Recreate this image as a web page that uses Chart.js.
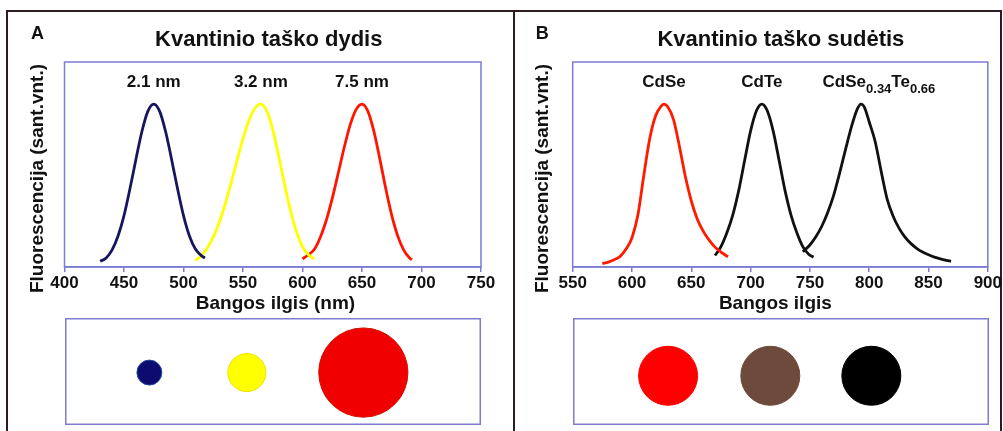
<!DOCTYPE html>
<html>
<head>
<meta charset="utf-8">
<script src="https://cdn.jsdelivr.net/npm/chart.js@4.4.1/dist/chart.umd.min.js"></script>
<style>
  body { margin: 0; background: #fff; width: 1003px; height: 431px; overflow: hidden; position: relative; }
  #frame { position: absolute; left: 6px; top: 10px; width: 996px; height: 440px; border: 2px solid #2b1d1d; box-sizing: border-box; }
  #divider { position: absolute; left: 513px; top: 10px; width: 2px; height: 430px; background: #2b1d1d; }
  canvas { position: absolute; }
</style>
</head>
<body>
<div id="frame"></div>
<div id="divider"></div>
<canvas id="specA" width="505" height="318" style="left:0;top:0"></canvas>
<canvas id="specB" width="489" height="318" style="left:514px;top:0"></canvas>
<canvas id="dotsA" width="416" height="107" style="left:65px;top:318px"></canvas>
<canvas id="dotsB" width="416" height="107" style="left:573px;top:318px"></canvas>
<script>
// ašių padalos
const ticksA = [400, 450, 500, 550, 600, 650, 700, 750];
const ticksB = [550, 600, 650, 700, 750, 800, 850, 900];

// A: taško dydis
const sizeLabels = ['2.1 nm', '3.2 nm', '7.5 nm'];
const dotSizeNm = [2.1, 3.2, 7.5];
const wl21 = [430, 435, 440, 445, 450, 455, 460, 465, 470, 475, 480, 485, 490, 495, 500, 505, 510, 515, 518];
const fl21 = [0.035, 0.055, 0.105, 0.19, 0.315, 0.48, 0.66, 0.83, 0.955, 1.0, 0.955, 0.83, 0.66, 0.48, 0.315, 0.19, 0.11, 0.07, 0.055];
const wl32 = [510, 515, 520, 525, 530, 535, 540, 545, 550, 555, 560, 565, 570, 575, 580, 585, 590, 595, 600, 605, 610];
const fl32 = [0.04, 0.07, 0.117, 0.183, 0.272, 0.385, 0.515, 0.654, 0.788, 0.899, 0.974, 1.0, 0.958, 0.843, 0.681, 0.505, 0.344, 0.215, 0.125, 0.075, 0.05];
const wl75 = [600, 605, 610, 615, 620, 625, 630, 635, 640, 645, 650, 655, 660, 665, 670, 675, 680, 685, 690, 692];
const fl75 = [0.05, 0.075, 0.109, 0.183, 0.287, 0.421, 0.575, 0.732, 0.871, 0.966, 1.0, 0.955, 0.832, 0.662, 0.48, 0.317, 0.191, 0.105, 0.055, 0.045];
const dotPosA = [471, 553, 651];

// B: taško sudėtis
const compLabels = ['CdSe', 'CdTe', 'CdSe_{0.34}Te_{0.66}'];
const wlCdSe = [575, 580, 585, 590, 595, 600, 605, 610, 615, 620, 625, 627, 630, 635, 640, 645, 650, 655, 660, 665, 670, 675, 681];
const flCdSe = [0.02, 0.03, 0.045, 0.065, 0.11, 0.18, 0.32, 0.565, 0.79, 0.93, 0.99, 1.0, 0.985, 0.905, 0.74, 0.555, 0.405, 0.295, 0.22, 0.165, 0.122, 0.092, 0.063];
const wlCdTe = [670, 675, 680, 685, 690, 695, 700, 705, 709.5, 714, 719, 724, 729, 734, 739, 744, 749, 753];
const flCdTe = [0.07, 0.125, 0.21, 0.32, 0.47, 0.655, 0.835, 0.96, 1.0, 0.96, 0.835, 0.655, 0.47, 0.32, 0.21, 0.125, 0.078, 0.06];
const wlCdSeTe = [744, 750, 755, 760, 765, 770, 775, 780, 785, 790, 793, 796, 800, 805, 810, 815, 820, 825, 830, 835, 840, 845, 850, 855, 860, 865, 869];
const flCdSeTe = [0.094, 0.135, 0.185, 0.25, 0.335, 0.44, 0.575, 0.72, 0.86, 0.97, 1.0, 0.98, 0.89, 0.77, 0.59, 0.42, 0.315, 0.24, 0.185, 0.145, 0.115, 0.092, 0.075, 0.061, 0.05, 0.041, 0.035];
const dotPosB = [630, 716, 801];

// spalvos
const fam = '"Liberation Sans", Arial, sans-serif';
const frameColor = '#7d7bd2';
const textColor = '#111';
const lineColorsA = ['#16165e', '#ffff00', '#ff1500'];
const lineColorsB = ['#ff1a00', '#111111', '#111111'];
const dotColorsA = ['#0c0c70', '#ffff00', '#f00000'];
const dotEdgeA = ['#2a4a9a', '#f0e000', '#d01000'];
const dotColorsB = ['#ff0000', '#6d4a3b', '#000000'];

Chart.defaults.font.family = fam;

function pts(xs, ys) {
    return xs.map((x, i) => ({ x: x, y: ys[i] }));
}

function peakOf(xs, ys) {
    let k = 0;
    ys.forEach((v, i) => { if (v > ys[k]) k = i; });
    return xs[k];
}

// rėmelis aplink grafiko sritį
function framePlugin(inset) {
    return {
        id: 'plotFrame',
        beforeDatasetsDraw(chart) {
            const { ctx, chartArea: a } = chart;
            ctx.save();
            ctx.strokeStyle = frameColor;
            ctx.lineWidth = 1.5;
            ctx.strokeRect(a.left + inset, a.top + inset, a.right - a.left - 2 * inset, a.bottom - a.top - 2 * inset);
            ctx.restore();
        }
    };
}

// tekstas su apatiniais indeksais: "CdSe_{0.34}"
function drawRich(ctx, text, x, y, size) {
    const parts = [];
    text.split(/(_\{[^}]*\})/).forEach(p => {
        if (!p) return;
        if (p.startsWith('_{')) parts.push({ t: p.slice(2, -1), sub: true });
        else parts.push({ t: p, sub: false });
    });
    const subSize = Math.round(size * 0.78);
    let w = 0;
    parts.forEach(p => {
        ctx.font = 'bold ' + (p.sub ? subSize : size) + 'px ' + fam;
        p.w = ctx.measureText(p.t).width;
        w += p.w;
    });
    let cx = x - w / 2;
    ctx.textAlign = 'left';
    parts.forEach(p => {
        ctx.font = 'bold ' + (p.sub ? subSize : size) + 'px ' + fam;
        ctx.fillText(p.t, cx, p.sub ? y + 6 : y);
        cx += p.w;
    });
}

function textPlugin(cfg) {
    return {
        id: 'panelText',
        afterDraw(chart) {
            const { ctx, chartArea: a } = chart;
            const xs = chart.scales.x, ys = chart.scales.y;
            const mid = (a.left + a.right) / 2;
            ctx.save();
            ctx.fillStyle = textColor;
            ctx.textBaseline = 'alphabetic';

            ctx.font = 'bold 18px ' + fam;
            ctx.textAlign = 'left';
            ctx.fillText(cfg.letter, a.left + cfg.letterDx, 39);

            ctx.font = 'bold 22px ' + fam;
            ctx.textAlign = 'center';
            ctx.fillText(cfg.title, mid + cfg.titleDx, 46);

            ctx.font = 'bold 19px ' + fam;
            ctx.fillText(cfg.xTitle, mid + cfg.xTitleDx, 308.5);

            ctx.save();
            ctx.translate(a.left + cfg.yTitleDx, 178.5);
            ctx.rotate(-Math.PI / 2);
            ctx.fillText(cfg.yTitle, 0, 0);
            ctx.restore();

            cfg.labels.forEach((lab, i) => {
                const px = xs.getPixelForValue(cfg.peaks[i]) + (cfg.labelDx[i] || 0);
                const py = ys.getPixelForValue(cfg.labelLevel) + 6;
                drawRich(ctx, lab, px, py, 17);
            });
            ctx.restore();
        }
    };
}

function spectrumChart(id, series, colors, ticks, padding, cfg) {
    return new Chart(document.getElementById(id), {
        type: 'line',
        data: {
            datasets: series.map((s, i) => ({
                data: pts(s[0], s[1]),
                borderColor: colors[i],
                borderWidth: 2.8,
                pointRadius: 0,
                fill: false,
                cubicInterpolationMode: 'monotone'
            }))
        },
        options: {
            responsive: false,
            animation: false,
            events: [],
            layout: { padding: padding },
            plugins: { legend: { display: false }, tooltip: { enabled: false } },
            scales: {
                x: {
                    type: 'linear',
                    min: ticks[0],
                    max: ticks[ticks.length - 1],
                    afterBuildTicks: s => { s.ticks = ticks.map(v => ({ value: v })); },
                    afterFit: s => { s.height = 48; },
                    border: { color: frameColor, width: 1.5 },
                    grid: { drawOnChartArea: false, color: frameColor, tickLength: 5, lineWidth: 1.5 },
                    ticks: { color: textColor, font: { size: 17, weight: 'bold' }, padding: 1, maxRotation: 0, autoSkip: false }
                },
                y: { display: false, min: 0, max: 1.258 }
            }
        },
        plugins: [framePlugin(0), textPlugin(cfg)]
    });
}

function dotChart(id, xs, level, radii, colors, edges, ticks) {
    return new Chart(document.getElementById(id), {
        type: 'bubble',
        data: {
            datasets: [{
                data: xs.map((x, i) => ({ x: x, y: level, r: radii[i] })),
                backgroundColor: colors,
                borderColor: edges,
                borderWidth: 1,
                clip: false
            }]
        },
        options: {
            responsive: false,
            animation: false,
            events: [],
            layout: { padding: 0, autoPadding: false },
            plugins: { legend: { display: false }, tooltip: { enabled: false } },
            scales: {
                x: { display: false, min: ticks[0], max: ticks[ticks.length - 1] },
                y: { display: false, min: 0, max: 1 }
            }
        },
        plugins: [framePlugin(0.75)]
    });
}

// A
const seriesA = [[wl21, fl21], [wl32, fl32], [wl75, fl75]];
spectrumChart('specA', seriesA, lineColorsA, ticksA,
    { left: 64.5, right: 24, top: 62, bottom: 3 },
    {
        letter: 'A', letterDx: -33.5,
        title: 'Kvantinio taško dydis', titleDx: -4,
        xTitle: 'Bangos ilgis (nm)', xTitleDx: 2.7,
        yTitle: 'Fluorescencija (sant.vnt.)', yTitleDx: -21.5,
        labels: sizeLabels, peaks: seriesA.map(s => peakOf(s[0], s[1])),
        labelDx: [0, 0, 0], labelLevel: 1.14
    });

// B
const seriesB = [[wlCdSe, flCdSe], [wlCdTe, flCdTe], [wlCdSeTe, flCdSeTe]];
spectrumChart('specB', seriesB, lineColorsB, ticksB,
    { left: 58.7, right: 14.3, top: 62, bottom: 3 },
    {
        letter: 'B', letterDx: -37,
        title: 'Kvantinio taško sudėtis', titleDx: 0.6,
        xTitle: 'Bangos ilgis', xTitleDx: -4.9,
        yTitle: 'Fluorescencija (sant.vnt.)', yTitleDx: -25,
        labels: compLabels, peaks: seriesB.map(s => peakOf(s[0], s[1])),
        labelDx: [0, 0, 18], labelLevel: 1.14
    });

// taškų paveikslėliai
dotChart('dotsA', dotPosA, 0.49, dotSizeNm.map(d => d * 5.95), dotColorsA, dotEdgeA, ticksA);
dotChart('dotsB', dotPosB, 0.46, [29.5, 29.5, 29.5], dotColorsB, dotColorsB, ticksB);
</script>
</body>
</html>
